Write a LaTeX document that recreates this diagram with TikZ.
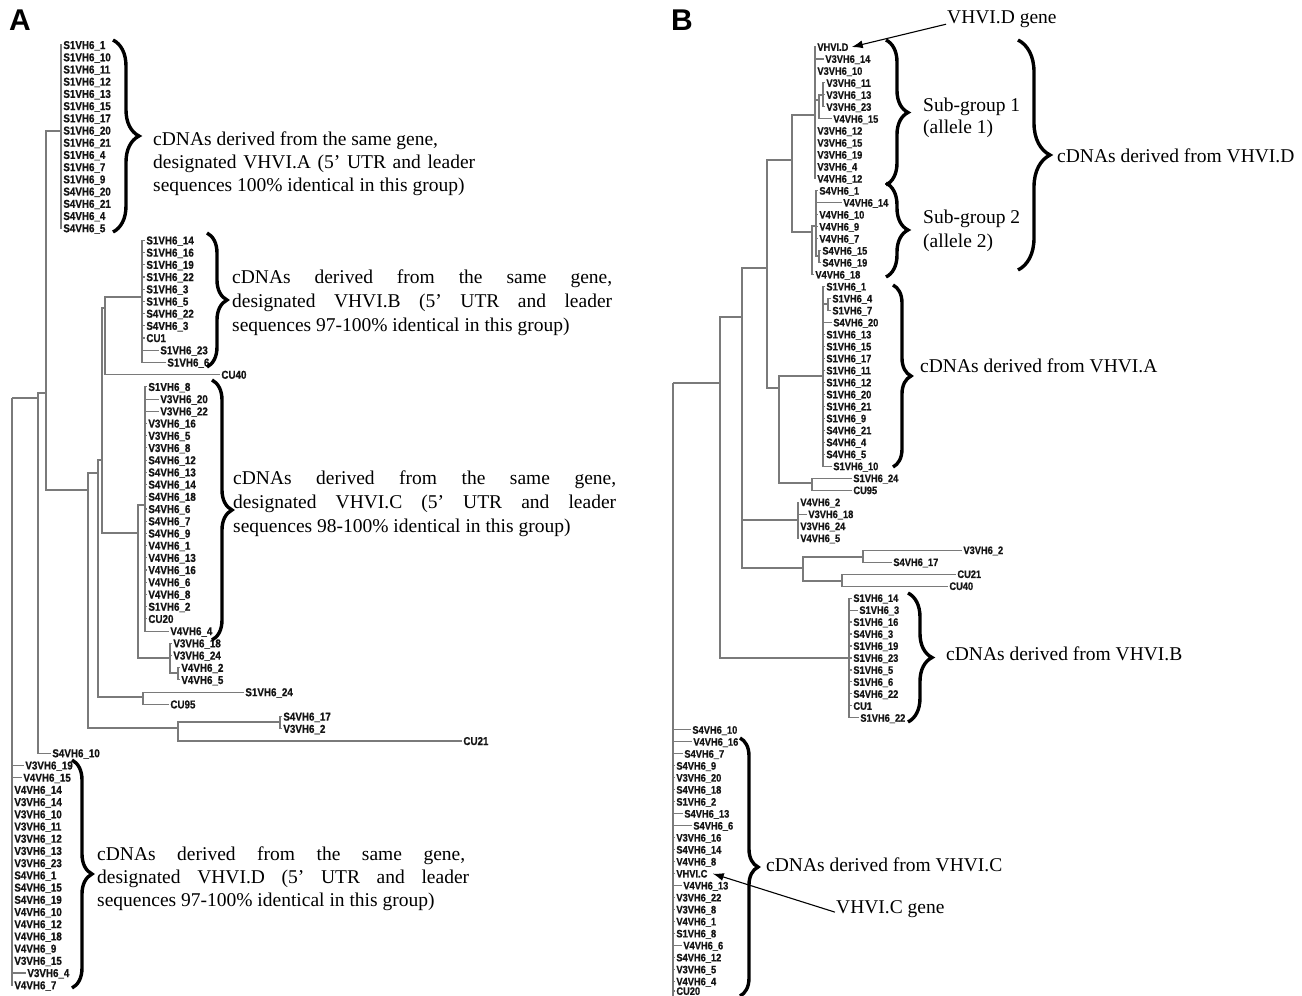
\documentclass[tikz,border=0pt]{standalone}
\usepackage{fontspec}
\setmainfont{Liberation Serif}
\newfontfamily\labfont{Liberation Sans Bold}[FakeStretch=0.86, FakeBold=0.7]
\newfontfamily\panelfont{Liberation Sans}
\usetikzlibrary{decorations.pathreplacing,arrows.meta}
\definecolor{treegray}{HTML}{7A7A7A}
\definecolor{labcol}{HTML}{141414}
\tikzset{
 br/.style={draw=treegray, line width=1.1pt},
 labA/.style={font=\labfont\fontsize{11.4}{11.4}\selectfont, anchor=west, inner xsep=1.2pt, inner ysep=0pt, text height=8.1pt, text depth=0pt, text=labcol},
 labB/.style={labA, font=\labfont\fontsize{10.8}{10.8}\selectfont, text height=7.7pt},
 brc/.style={decorate, decoration={brace, amplitude=#1}, line width=3.4pt, draw=black},
 ann/.style={font=\fontsize{19.5}{23}\selectfont, anchor=base west, inner sep=0pt},
 panel/.style={font=\panelfont\bfseries\fontsize{30}{30}\selectfont, anchor=base west, inner sep=0pt},
 arr/.style={-{Latex[length=11pt,width=8pt]}, line width=1.1pt, draw=black},
}
\newcommand\LfA[3]{\node[labA] (a#1) at (#2,{45+(#1)*12.21}) {#3};}
\newcommand\LfB[3]{\node[labB] (b#1) at (#2,{47+(#1)*11.98}) {#3};}
\begin{document}
\begin{tikzpicture}[x=1pt,y=-1pt]
\useasboundingbox (0,0) rectangle (1302,996);
\fill[white] (0,0) rectangle (1302,996);

% ================= PANEL A =================
\node[panel] (pA) at (9,30) {A};
\foreach \i/\x/\t in {0/62/S1VH6\_1, 1/62/S1VH6\_10, 2/62/S1VH6\_11, 3/62/S1VH6\_12, 4/62/S1VH6\_13, 5/62/S1VH6\_15, 6/62/S1VH6\_17, 7/62/S1VH6\_20, 8/62/S1VH6\_21, 9/62/S1VH6\_4, 10/62/S1VH6\_7, 11/62/S1VH6\_9, 12/62/S4VH6\_20, 13/62/S4VH6\_21, 14/62/S4VH6\_4, 15/62/S4VH6\_5,
 16/145/S1VH6\_14, 17/145/S1VH6\_16, 18/145/S1VH6\_19, 19/145/S1VH6\_22, 20/145/S1VH6\_3, 21/145/S1VH6\_5, 22/145/S4VH6\_22, 23/145/S4VH6\_3, 24/145/CU1, 25/159/S1VH6\_23, 26/166/S1VH6\_6,
 27/220/CU40,
 28/147/S1VH6\_8, 29/159/V3VH6\_20, 30/159/V3VH6\_22, 31/147/V3VH6\_16, 32/147/V3VH6\_5, 33/147/V3VH6\_8, 34/147/S4VH6\_12, 35/147/S4VH6\_13, 36/147/S4VH6\_14, 37/147/S4VH6\_18, 38/147/S4VH6\_6, 39/147/S4VH6\_7, 40/147/S4VH6\_9, 41/147/V4VH6\_1, 42/147/V4VH6\_13, 43/147/V4VH6\_16, 44/147/V4VH6\_6, 45/147/V4VH6\_8, 46/147/S1VH6\_2, 47/147/CU20, 48/169/V4VH6\_4,
 49/172/V3VH6\_18, 50/172/V3VH6\_24, 51/180/V4VH6\_2, 52/180/V4VH6\_5,
 53/244/S1VH6\_24, 54/169/CU95, 55/282/S4VH6\_17, 56/282/V3VH6\_2, 57/462/CU21, 58/51/S4VH6\_10,
 59/24/V3VH6\_19, 60/22/V4VH6\_15, 61/13/V4VH6\_14, 62/13/V3VH6\_14, 63/13/V3VH6\_10, 64/13/V3VH6\_11, 65/13/V3VH6\_12, 66/13/V3VH6\_13, 67/13/V3VH6\_23, 68/13/S4VH6\_1, 69/13/S4VH6\_15, 70/13/S4VH6\_19, 71/13/V4VH6\_10, 72/13/V4VH6\_12, 73/13/V4VH6\_18, 74/13/V4VH6\_9, 75/13/V3VH6\_15, 76/26/V3VH6\_4, 77/13/V4VH6\_7}
 {\LfA{\i}{\x}{\t}}

% internal nodes of tree A
\coordinate (rootA) at (12,398);
\coordinate (n38) at (38,398);
\coordinate (n45) at (46,393);
\coordinate (gA) at (61,131);
\coordinate (n88) at (88,490);
\coordinate (n98) at (98,473);
\coordinate (nB1) at (102,460);
\coordinate (nB2) at (105,308);
\coordinate (gB) at (142,297);
\coordinate (nC1) at (138,533);
\coordinate (gC) at (145,505);
\coordinate (nC2) at (170,658);
\coordinate (nC3) at (178,673);
\coordinate (nE) at (143,697);
\coordinate (nF) at (178,728);
\coordinate (nF2) at (280,722);

\draw[br] (rootA) |- (n38);
\foreach \i in {59,...,77} \draw[br] (rootA) |- (a\i.west);
\draw[br] (n38) |- (n45);
\draw[br] (n38) |- (a58.west);
\draw[br] (n45) |- (gA);
\draw[br] (n45) |- (n88);
\foreach \i in {0,...,15} \draw[br] (gA) |- (a\i.west);
\draw[br] (n88) |- (n98);
\draw[br] (n88) |- (nF);
\draw[br] (n98) |- (nB1);
\draw[br] (n98) |- (nE);
\draw[br] (nB1) |- (nB2);
\draw[br] (nB1) |- (nC1);
\draw[br] (nB2) |- (gB);
\draw[br] (nB2) |- (a27.west);
\foreach \i in {16,...,26} \draw[br] (gB) |- (a\i.west);
\draw[br] (nC1) |- (gC);
\draw[br] (nC1) |- (nC2);
\foreach \i in {28,...,48} \draw[br] (gC) |- (a\i.west);
\draw[br] (nC2) |- (a49.west);
\draw[br] (nC2) |- (a50.west);
\draw[br] (nC2) |- (nC3);
\draw[br] (nC3) |- (a51.west);
\draw[br] (nC3) |- (a52.west);
\draw[br] (nE) |- (a53.west);
\draw[br] (nE) |- (a54.west);
\draw[br] (nF) |- (nF2);
\draw[br] (nF) |- (a57.west);
\draw[br] (nF2) |- (a55.west);
\draw[br] (nF2) |- (a56.west);

% braces A
\draw[brc=26] (113,40) -- (113,232);
\draw[brc=20] (207,233) -- (207,367);
\draw[brc=20] (212,380) -- (212,640);
\draw[brc=20] (72,760) -- (72,988);

% annotation texts A
\node[ann] (tA1) at (153,145.5) {cDNAs derived from the same gene,};
\node[ann] (tA2) at (153,168.5) {\makebox[322pt][s]{designated VHVI.A (5' UTR and leader}};
\node[ann] (tA3) at (153,191.5) {sequences 100\% identical in this group)};
\node[ann] (tB1) at (232,283.5) {\makebox[380pt][s]{cDNAs derived from the same gene,}};
\node[ann] (tB2) at (232,307.5) {\makebox[380pt][s]{designated VHVI.B (5' UTR and leader}};
\node[ann] (tB3) at (232,331.5) {sequences 97-100\% identical in this group)};
\node[ann] (tC1) at (233,484.5) {\makebox[383pt][s]{cDNAs derived from the same gene,}};
\node[ann] (tC2) at (233,508.5) {\makebox[383pt][s]{designated VHVI.C (5' UTR and leader}};
\node[ann] (tC3) at (233,532.5) {sequences 98-100\% identical in this group)};
\node[ann] (tD1) at (97,860.5) {\makebox[368pt][s]{cDNAs derived from the same gene,}};
\node[ann] (tD2) at (97,883.5) {\makebox[372pt][s]{designated VHVI.D (5' UTR and leader}};
\node[ann] (tD3) at (97,906.5) {sequences 97-100\% identical in this group)};

% ================= PANEL B =================
\node[panel] (pB) at (671,30) {B};
\foreach \i/\x/\t in {0/816/VHVI.D, 1/824/V3VH6\_14, 2/816/V3VH6\_10, 3/825/V3VH6\_11, 4/825/V3VH6\_13, 5/825/V3VH6\_23, 6/832/V4VH6\_15, 7/816/V3VH6\_12, 8/816/V3VH6\_15, 9/816/V3VH6\_19, 10/816/V3VH6\_4, 11/816/V4VH6\_12,
 12/818/S4VH6\_1, 13/842/V4VH6\_14, 14/818/V4VH6\_10, 15/818/V4VH6\_9, 16/818/V4VH6\_7, 17/821/S4VH6\_15, 18/821/S4VH6\_19, 19/814/V4VH6\_18,
 20/825/S1VH6\_1, 21/831/S1VH6\_4, 22/831/S1VH6\_7, 23/832/S4VH6\_20, 24/825/S1VH6\_13, 25/825/S1VH6\_15, 26/825/S1VH6\_17, 27/825/S1VH6\_11, 28/825/S1VH6\_12, 29/825/S1VH6\_20, 30/825/S1VH6\_21, 31/825/S1VH6\_9, 32/825/S4VH6\_21, 33/825/S4VH6\_4, 34/825/S4VH6\_5, 35/832/S1VH6\_10,
 36/852/S1VH6\_24, 37/852/CU95, 38/799/V4VH6\_2, 39/807/V3VH6\_18, 40/799/V3VH6\_24, 41/799/V4VH6\_5,
 42/962/V3VH6\_2, 43/892/S4VH6\_17, 44/956/CU21, 45/948/CU40,
 46/852/S1VH6\_14, 47/858/S1VH6\_3, 48/852/S1VH6\_16, 49/852/S4VH6\_3, 50/852/S1VH6\_19, 51/852/S1VH6\_23, 52/852/S1VH6\_5, 53/852/S1VH6\_6, 54/852/S4VH6\_22, 55/852/CU1, 56/859/S1VH6\_22,
 57/691/S4VH6\_10, 58/692/V4VH6\_16, 59/683/S4VH6\_7, 60/675/S4VH6\_9, 61/675/V3VH6\_20, 62/675/S4VH6\_18, 63/675/S1VH6\_2, 64/683/S4VH6\_13, 65/692/S4VH6\_6, 66/675/V3VH6\_16, 67/675/S4VH6\_14, 68/675/V4VH6\_8, 69/675/VHVI.C, 70/682/V4VH6\_13, 71/675/V3VH6\_22, 72/675/V3VH6\_8, 73/675/V4VH6\_1, 74/675/S1VH6\_8, 75/682/V4VH6\_6, 76/675/S4VH6\_12, 77/675/V3VH6\_5, 78/675/V4VH6\_4}
 {\LfB{\i}{\x}{\t}}
\node[labB] (b79) at (675,991) {CU20};

% internal nodes of tree B
\coordinate (rootB) at (673,383);
\coordinate (n720) at (720,383);
\coordinate (n742) at (742,317);
\coordinate (n767) at (767,268);
\coordinate (nD) at (792,160);
\coordinate (g1) at (815,115);
\coordinate (n1b) at (819,100);
\coordinate (n1c) at (823,95);
\coordinate (n2) at (812,232);
\coordinate (g2) at (816,226);
\coordinate (n2b) at (819,256);
\coordinate (nA1) at (779,388);
\coordinate (gAA) at (823,376);
\coordinate (nA4) at (828,304);
\coordinate (nA24) at (812,483);
\coordinate (g4) at (798,520);
\coordinate (n803) at (803,568);
\coordinate (n863) at (863,557);
\coordinate (n842) at (842,581);
\coordinate (gBB) at (849,658);

\draw[br] (rootB) |- (n720);
\foreach \i in {57,...,79} \draw[br] (rootB) |- (b\i.west);
\draw[br] (rootB) -- (673,996);
\draw[br] (n720) |- (n742);
\draw[br] (n720) |- (gBB);
\draw[br] (n742) |- (n767);
\draw[br] (n742) |- (g4);
\draw[br] (n742) |- (n803);
\draw[br] (n767) |- (nD);
\draw[br] (n767) |- (nA1);
\draw[br] (nD) |- (g1);
\draw[br] (nD) |- (n2);
\foreach \i in {0,1,2,7,8,9,10,11} \draw[br] (g1) |- (b\i.west);
\draw[br] (g1) |- (n1b);
\draw[br] (n1b) |- (n1c);
\draw[br] (n1b) |- (b6.west);
\foreach \i in {3,4,5} \draw[br] (n1c) |- (b\i.west);
\draw[br] (n2) |- (g2);
\draw[br] (n2) |- (b19.west);
\foreach \i in {12,...,16} \draw[br] (g2) |- (b\i.west);
\draw[br] (g2) |- (n2b);
\draw[br] (n2b) |- (b17.west);
\draw[br] (n2b) |- (b18.west);
\draw[br] (nA1) |- (gAA);
\draw[br] (nA1) |- (nA24);
\foreach \i in {20,23,24,...,35} \draw[br] (gAA) |- (b\i.west);
\draw[br] (gAA) |- (nA4);
\draw[br] (nA4) |- (b21.west);
\draw[br] (nA4) |- (b22.west);
\draw[br] (nA24) |- (b36.west);
\draw[br] (nA24) |- (b37.west);
\foreach \i in {38,...,41} \draw[br] (g4) |- (b\i.west);
\draw[br] (n803) |- (n863);
\draw[br] (n803) |- (n842);
\draw[br] (n863) |- (b42.west);
\draw[br] (n863) |- (b43.west);
\draw[br] (n842) |- (b44.west);
\draw[br] (n842) |- (b45.west);
\foreach \i in {46,...,56} \draw[br] (gBB) |- (b\i.west);

% braces B
\draw[brc=22] (886,40) -- (886,185);
\draw[brc=22] (886,183) -- (886,277);
\draw[brc=32] (1018,40) -- (1018,270);
\draw[brc=18] (893,285) -- (893,467);
\draw[brc=24] (908,593) -- (908,722);
\draw[brc=18] (740,738) -- (740,996);

% annotation texts B
\node[ann] (tDg) at (947,23.5) {VHVI.D gene};
\node[ann] (tS1) at (923,111.5) {Sub-group 1};
\node[ann] (tS1b) at (923,133.5) {(allele 1)};
\node[ann] (tS2) at (923,223.5) {Sub-group 2};
\node[ann] (tS2b) at (923,247.5) {(allele 2)};
\node[ann] (tVD) at (1057,162.5) {cDNAs derived from VHVI.D};
\node[ann] (tVA) at (920,372.5) {cDNAs derived from VHVI.A};
\node[ann] (tVB) at (946,660.5) {cDNAs derived from VHVI.B};
\node[ann] (tVC) at (766,871.5) {cDNAs derived from VHVI.C};
\node[ann] (tCg) at (836,913.5) {VHVI.C gene};

\draw[arr] ([yshift=-5pt,xshift=-1pt]tDg.west) -- ([xshift=2pt]b0.east);
\draw[arr] ([yshift=-3pt,xshift=-1pt]tCg.west) -- ([xshift=4pt]b69.east);
\end{tikzpicture}
\end{document}
